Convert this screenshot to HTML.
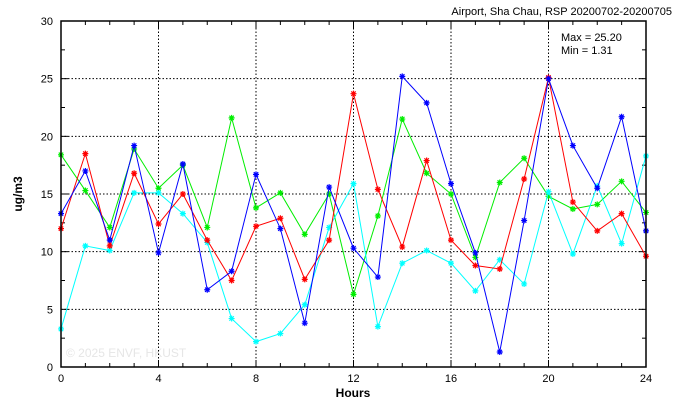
<!DOCTYPE html>
<html><head><meta charset="utf-8"><style>
html,body{margin:0;padding:0;background:#fff;}
svg{display:block;font-family:"Liberation Sans",sans-serif;}
</style></head><body>
<svg id="s" width="674" height="409" viewBox="0 0 674 409" xmlns="http://www.w3.org/2000/svg">
<rect width="674" height="409" fill="#fff"/>
<text x="672" y="15" font-size="11" text-anchor="end" font-family="Liberation Sans,sans-serif">Airport, Sha Chau, RSP 20200702-20200705</text>
<text x="561" y="41" font-size="11">Max = 25.20</text>
<text x="561" y="54" font-size="11">Min =  1.31</text>
<text x="66" y="357" font-size="12" fill="#e6e6e6">© 2025  ENVF, HKUST</text>
<text x="353" y="397" font-size="12" text-anchor="middle" font-weight="bold">Hours</text>
<text x="22" y="194" font-size="12" font-weight="bold" text-anchor="middle" transform="rotate(-90 22 194)">ug/m3</text>
<g id="grid"></g><g id="data"></g>
<rect x="61" y="21" width="585" height="346" fill="none" stroke="#000" stroke-width="1.5"/>
</svg>
<script>
var X=h=>61+h*24.375,Y=v=>367-v*11.533,NS="http://www.w3.org/2000/svg";
var g=document.getElementById('grid'),d=document.getElementById('data'),s='';
for(var h=4;h<24;h+=4)s+=`<line x1="${X(h)}" y1="21" x2="${X(h)}" y2="367" stroke="#000" stroke-dasharray="1.5,2"/>`;
for(var v=5;v<30;v+=5)s+=`<line x1="61" y1="${Y(v)}" x2="646" y2="${Y(v)}" stroke="#000" stroke-dasharray="1.5,2"/>`;
for(var h=0;h<=24;h++){var l=h%4?4:7;s+=`<line x1="${X(h)}" y1="367" x2="${X(h)}" y2="${367-l}" stroke="#000"/><line x1="${X(h)}" y1="21" x2="${X(h)}" y2="${21+l}" stroke="#000"/>`;}
for(var h=0;h<=24;h+=4)s+=`<text x="${X(h)}" y="382" font-size="11" text-anchor="middle">${h}</text>`;
for(var v=0;v<=30;v+=2.5){var l=v%5?4:7;s+=`<line x1="61" y1="${Y(v)}" x2="${61+l}" y2="${Y(v)}" stroke="#000"/><line x1="646" y1="${Y(v)}" x2="${646-l}" y2="${Y(v)}" stroke="#000"/>`;if(v%5==0)s+=`<text x="53" y="${Y(v)+4}" font-size="11" text-anchor="end">${v}</text>`;}
g.innerHTML=s;
var S=[["#00ee00",[18.4,15.3,12.1,18.9,15.5,17.5,12.1,21.6,13.8,15.1,11.5,15,6.3,13.1,21.5,16.8,15,9.5,16,18.1,14.8,13.7,14.1,16.1,13.4]],
["#00ffff",[3.3,10.5,10.1,15.1,15.1,13.3,10.8,4.2,2.2,2.9,5.4,12.1,15.9,3.5,9,10.1,9,6.6,9.3,7.2,15.2,9.8,15.7,10.7,18.3]],
["#ff0000",[12,18.5,10.5,16.8,12.4,15,11,7.5,12.2,12.9,7.6,11,23.7,15.4,10.4,17.9,11,8.8,8.5,16.3,25.1,14.3,11.8,13.3,9.6]],
["#0000ff",[13.3,17,11,19.2,9.9,17.6,6.7,8.3,16.7,12,3.8,15.6,10.3,7.8,25.2,22.9,15.9,9.9,1.3,12.7,25,19.2,15.5,21.7,11.8]]];
s='';
S.forEach(function(a){var c=a[0],p=a[1].map((v,i)=>X(i)+','+Y(v)).join(' ');
s+=`<polyline points="${p}" fill="none" stroke="${c}" stroke-width="1"/>`;
a[1].forEach((v,i)=>{var x=X(i),y=Y(v);s+=`<path d="M${x-3} ${y}H${x+3}M${x} ${y-3}V${y+3}M${x-2.2} ${y-2.2}L${x+2.2} ${y+2.2}M${x-2.2} ${y+2.2}L${x+2.2} ${y-2.2}" stroke="${c}" stroke-width="1.2"/>`;});});
d.innerHTML=s;
</script>
</body></html>
